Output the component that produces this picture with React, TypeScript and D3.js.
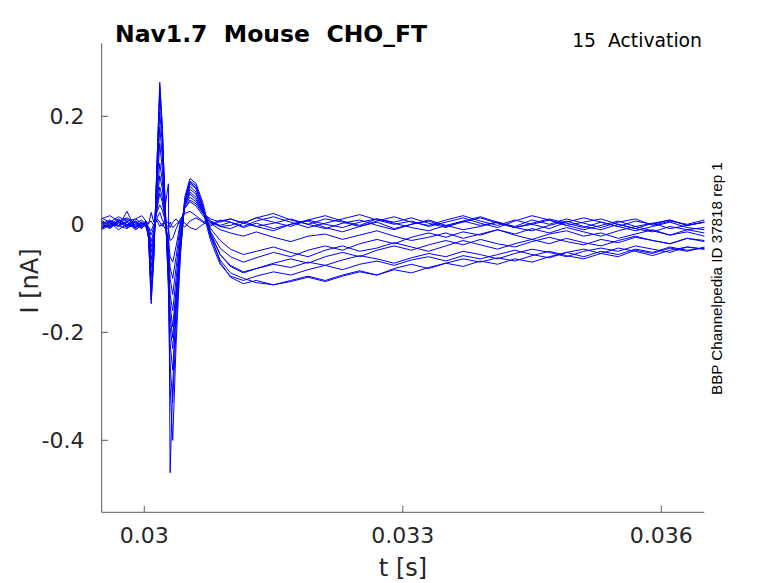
import React from 'react';
import * as d3 from 'd3';

// sample times (s) shared by every sweep
const timeS = [
  0.0295, 0.0296, 0.0297, 0.0298, 0.0299, 0.02997, 0.03002, 0.03005,
  0.03008, 0.03011, 0.03015, 0.03018, 0.03021, 0.03024, 0.03028, 0.0303, 0.03033,
  0.03037, 0.03042, 0.03047, 0.03053, 0.0306, 0.03068, 0.03077, 0.03088,
  0.031, 0.03115, 0.0313, 0.0315, 0.0317, 0.0319, 0.0321, 0.0323, 0.0325, 0.0327,
  0.0329, 0.0331, 0.0333, 0.0335, 0.0337, 0.0339, 0.0341, 0.0343, 0.0345, 0.0347,
  0.0349, 0.0351, 0.0353, 0.0355, 0.0357, 0.0359, 0.0361, 0.0363, 0.0365,
];

// current (nA) of each sweep
const sweep01 = [
  0.004, -0.006, 0.008, -0.002, 0.01, 0.002, -0.004, 0.003,
  0.006, -0.002, 0.01, 0.004, -0.004, 0.008, 0.002, -0.006, 0.004, 0.01, 0.0, -0.005, 0.006, 0.012, 0.004, -0.003, 0.006,
  0.01, 0.002, 0.012, 0.004, -0.004, 0.008, 0.016, 0.006, -0.002, 0.01, 0.004, 0.012, 0.002, -0.006, 0.006,
  0.014, 0.004, -0.004, 0.008, 0.0, 0.01, 0.002, -0.006, 0.004, 0.01, -0.002, 0.006, 0.0, 0.008,
];
const sweep02 = [
  -0.008, 0.002, -0.004, 0.024, -0.01, -0.002, 0.004, -0.006,
  -0.012, 0.0, 0.006, -0.004, 0.002, -0.008, -0.002, 0.004, -0.006, 0.0, 0.008, 0.002, -0.006, -0.01, 0.0, 0.006, -0.004,
  -0.008, 0.002, -0.004, -0.012, 0.0, 0.006, -0.006, -0.014, -0.004, 0.004, -0.008, 0.0, 0.008, -0.002, -0.01,
  -0.004, 0.004, -0.006, -0.012, -0.002, 0.006, -0.004, -0.01, 0.0, -0.008, -0.014, -0.004, -0.01, -0.006,
];
const sweep03 = [
  0.01, 0.016, 0.006, 0.012, 0.002, 0.008, 0.0, -0.004,
  -0.02, -0.006, 0.012, 0.022, 0.008, 0.0, -0.01, -0.03, -0.026, -0.008, 0.01, 0.02, 0.024, 0.016, 0.006, 0.0, 0.008,
  0.004, -0.004, 0.006, 0.014, 0.004, -0.006, 0.002, 0.01, 0.018, 0.008, 0.0, 0.006, -0.004, 0.004, 0.012,
  0.002, -0.006, 0.006, 0.016, 0.008, -0.002, 0.004, 0.01, 0.0, -0.008, 0.002, 0.008, -0.002, 0.004,
];
const sweep04 = [
  -0.004, 0.004, -0.01, 0.0, -0.006, 0.002, -0.002, -0.01,
  -0.032, -0.012, 0.03, 0.058, 0.04, 0.01, -0.04, -0.08, -0.1, -0.06, 0.0, 0.03, 0.042, 0.034, 0.016, 0.004, -0.004,
  -0.002, 0.006, -0.004, 0.002, 0.01, 0.0, -0.008, 0.002, 0.008, -0.002, -0.01, 0.0, 0.006, -0.004, 0.004,
  0.012, 0.002, -0.006, 0.0, 0.008, -0.002, -0.01, -0.002, 0.006, -0.004, 0.002, -0.008, -0.002, 0.004,
];
const sweep05 = [
  0.002, -0.008, 0.004, -0.004, 0.006, -0.002, 0.004, -0.012,
  -0.042, -0.018, 0.034, 0.069, 0.05, 0.014, -0.05, -0.1, -0.13, -0.08, -0.01, 0.034, 0.05, 0.042, 0.022, 0.006, -0.002,
  0.004, -0.006, 0.002, -0.008, 0.0, 0.008, 0.0, -0.006, 0.004, 0.01, 0.002, -0.006, -0.012, -0.002, 0.006,
  -0.002, 0.004, -0.006, 0.002, 0.01, 0.002, -0.006, 0.004, -0.004, -0.012, -0.004, 0.004, -0.006, -0.01,
];
const sweep06 = [
  -0.01, -0.002, 0.006, -0.006, 0.0, -0.008, 0.002, -0.014,
  -0.052, -0.024, 0.044, 0.09, 0.066, 0.02, -0.06, -0.13, -0.16, -0.1, -0.02, 0.036, 0.056, 0.046, 0.022, 0.002, -0.01,
  -0.016, -0.022, -0.014, -0.024, -0.032, -0.022, -0.018, -0.028, -0.02, -0.012, -0.022, -0.03, -0.024, -0.016, -0.026,
  -0.018, -0.01, -0.02, -0.028, -0.018, -0.012, -0.022, -0.016, -0.026, -0.018, -0.01, -0.02, -0.014, -0.022,
];
const sweep07 = [
  0.006, -0.004, 0.002, 0.01, -0.002, 0.004, -0.006, -0.016,
  -0.066, -0.03, 0.056, 0.113, 0.08, 0.024, -0.07, -0.15, -0.19, -0.12, -0.03, 0.034, 0.06, 0.05, 0.024, -0.008, -0.03,
  -0.046, -0.056, -0.05, -0.042, -0.052, -0.06, -0.048, -0.04, -0.05, -0.044, -0.034, -0.042, -0.05, -0.04, -0.03,
  -0.038, -0.046, -0.036, -0.028, -0.036, -0.026, -0.034, -0.04, -0.03, -0.022, -0.03, -0.036, -0.026, -0.03,
];
const sweep08 = [
  -0.006, 0.004, -0.002, -0.008, 0.004, -0.004, 0.0, -0.018,
  -0.08, -0.036, 0.072, 0.15, 0.1, 0.03, -0.08, -0.17, -0.21, -0.13, -0.036, 0.036, 0.065, 0.056, 0.026, -0.02, -0.056,
  -0.076, -0.088, -0.082, -0.074, -0.08, -0.07, -0.076, -0.066, -0.058, -0.064, -0.072, -0.062, -0.054, -0.06, -0.05,
  -0.056, -0.064, -0.054, -0.046, -0.052, -0.06, -0.05, -0.044, -0.05, -0.04, -0.046, -0.052, -0.042, -0.046,
];
const sweep09 = [
  0.002, -0.006, 0.008, 0.0, -0.006, 0.002, -0.004, -0.02,
  -0.098, -0.044, 0.086, 0.18, 0.124, 0.036, -0.09, -0.19, -0.23, -0.14, -0.04, 0.04, 0.07, 0.06, 0.024, -0.03, -0.074,
  -0.096, -0.104, -0.096, -0.088, -0.094, -0.084, -0.076, -0.084, -0.074, -0.068, -0.076, -0.066, -0.06, -0.068, -0.058,
  -0.064, -0.056, -0.048, -0.056, -0.062, -0.052, -0.046, -0.054, -0.044, -0.05, -0.058, -0.048, -0.042, -0.046,
];
const sweep10 = [
  -0.004, 0.006, -0.004, 0.004, -0.01, 0.0, 0.006, -0.022,
  -0.118, -0.052, 0.1, 0.208, 0.146, 0.04, -0.1, -0.22, -0.27, -0.16, -0.046, 0.04, 0.075, 0.066, 0.03, -0.024, -0.066,
  -0.09, -0.1, -0.108, -0.112, -0.104, -0.096, -0.104, -0.094, -0.086, -0.094, -0.082, -0.074, -0.082, -0.072, -0.064,
  -0.07, -0.062, -0.068, -0.058, -0.05, -0.058, -0.064, -0.054, -0.06, -0.048, -0.054, -0.044, -0.05, -0.042,
];
const sweep11 = [
  0.008, -0.002, 0.004, -0.004, 0.006, -0.006, 0.002, -0.024,
  -0.128, -0.058, 0.116, 0.24, 0.166, 0.046, -0.11, -0.26, -0.33, -0.19, -0.05, 0.046, 0.08, 0.072, 0.034, -0.016, -0.056,
  -0.078, -0.09, -0.082, -0.072, -0.064, -0.072, -0.06, -0.052, -0.06, -0.048, -0.04, -0.048, -0.038, -0.03, -0.038,
  -0.028, -0.036, -0.042, -0.032, -0.024, -0.032, -0.038, -0.028, -0.034, -0.024, -0.03, -0.036, -0.026, -0.032,
];
const sweep12 = [
  0.0, 0.008, -0.002, 0.006, -0.004, 0.004, -0.002, -0.026,
  -0.147, -0.066, 0.126, 0.263, 0.18, 0.03, 0.075, -0.46, -0.3, -0.15, -0.04, 0.05, 0.085, 0.076, 0.04, -0.02, -0.07,
  -0.098, -0.11, -0.104, -0.112, -0.106, -0.098, -0.106, -0.096, -0.088, -0.094, -0.084, -0.09, -0.08, -0.072, -0.078,
  -0.068, -0.074, -0.064, -0.07, -0.06, -0.052, -0.06, -0.05, -0.056, -0.046, -0.052, -0.042, -0.048, -0.044,
];
const sweep13 = [
  -0.008, 0.0, 0.01, -0.002, 0.004, -0.008, 0.004, -0.024,
  -0.14, -0.062, 0.122, 0.255, 0.176, 0.05, -0.12, -0.3, -0.4, -0.22, -0.056, 0.044, 0.078, 0.068, 0.03, -0.014, -0.044,
  -0.06, -0.07, -0.062, -0.052, -0.06, -0.048, -0.04, -0.048, -0.036, -0.028, -0.036, -0.024, -0.016, -0.024, -0.014,
  -0.02, -0.01, -0.018, -0.008, -0.016, -0.006, -0.014, -0.022, -0.012, -0.004, -0.012, -0.02, -0.01, -0.016,
];
const sweep14 = [
  0.012, 0.004, 0.014, 0.006, 0.01, 0.016, 0.006, 0.0,
  0.022, 0.004, 0.024, 0.036, 0.026, 0.008, -0.03, -0.06, -0.07, -0.04, 0.004, 0.03, 0.045, 0.038, 0.02, 0.01, 0.004,
  0.01, 0.002, 0.012, 0.02, 0.008, 0.0, 0.01, 0.004, -0.004, 0.006, 0.014, 0.004, -0.002, 0.008, 0.016,
  0.006, -0.002, 0.008, 0.0, -0.008, 0.004, 0.012, 0.004, -0.004, 0.006, 0.0, 0.008, -0.002, 0.004,
];

const sweeps = [
  sweep01, sweep02, sweep03, sweep04, sweep05, sweep06, sweep07,
  sweep08, sweep09, sweep10, sweep11, sweep12, sweep13, sweep14,
];

const xTicks = [0.03, 0.033, 0.036];
const yTicks = [-0.4, -0.2, 0, 0.2];

const W = 778;
const H = 583;
const plot = { left: 101.7, right: 704.3, top: 43.3, bottom: 512.3 };
const axisColor = '#5a5a5a';
const textColor = '#262626';
const font = 'DejaVu Sans, sans-serif';

export default function App() {
  const x = d3.scaleLinear().domain([0.029506, 0.036499]).range([plot.left, plot.right]);
  const y = d3.scaleLinear().domain([-0.5333, 0.3352]).range([plot.bottom, plot.top]);

  const line = d3
    .line<number>()
    .defined((d) => d !== undefined)
    .x((_, i) => x(timeS[i]))
    .y((d) => y(d));

  return (
    <svg
      width={W}
      height={H}
      style={{ position: 'absolute', left: 0, top: 0, background: '#fff' }}
      fontFamily={font}
    >
      <rect width={W} height={H} fill="#fff" />

      {/* traces */}
      <g fill="none" stroke="#0000ff" strokeWidth={1} strokeLinejoin="round">
        {sweeps.map((s, i) => (
          <path key={i} d={line(s.slice(0, timeS.length)) || ''} />
        ))}
      </g>

      {/* axes */}
      <g stroke={axisColor} strokeWidth={1} fill="none">
        <line x1={plot.left} x2={plot.left} y1={plot.top} y2={plot.bottom} />
        <line x1={plot.left} x2={plot.right} y1={plot.bottom} y2={plot.bottom} />
        {xTicks.map((t) => (
          <line key={t} x1={x(t)} x2={x(t)} y1={plot.bottom} y2={plot.bottom - 6.5} />
        ))}
        {yTicks.map((t) => (
          <line key={t} x1={plot.left} x2={plot.left + 6.5} y1={y(t)} y2={y(t)} />
        ))}
      </g>

      <g fill={textColor} fontSize={22}>
        {xTicks.map((t) => (
          <text key={t} x={x(t)} y={543} textAnchor="middle">
            {String(t)}
          </text>
        ))}
        {yTicks.map((t) => (
          <text key={t} x={84.5} y={y(t) + 8} textAnchor="end">
            {String(t)}
          </text>
        ))}
      </g>

      <text x={403} y={576} textAnchor="middle" fontSize={24} fill={textColor}>
        t [s]
      </text>
      <text
        transform="translate(38,281) rotate(-90)"
        textAnchor="middle"
        fontSize={24}
        fill={textColor}
      >
        I [nA]
      </text>

      <text x={115} y={42} fontSize={23.5} fontWeight="bold" fill="#000" style={{ whiteSpace: 'pre' }}>
        {'Nav1.7  Mouse  CHO_FT'}
      </text>
      <text x={702} y={47} fontSize={18.8} textAnchor="end" fill="#000" style={{ whiteSpace: 'pre' }}>
        {'15  Activation'}
      </text>
      <text
        transform="translate(722,395) rotate(-90)"
        fontSize={15.2}
        fontFamily="Liberation Sans, Arial, sans-serif"
        fill="#000"
      >
        BBP Channelpedia ID 37818 rep 1
      </text>
    </svg>
  );
}
